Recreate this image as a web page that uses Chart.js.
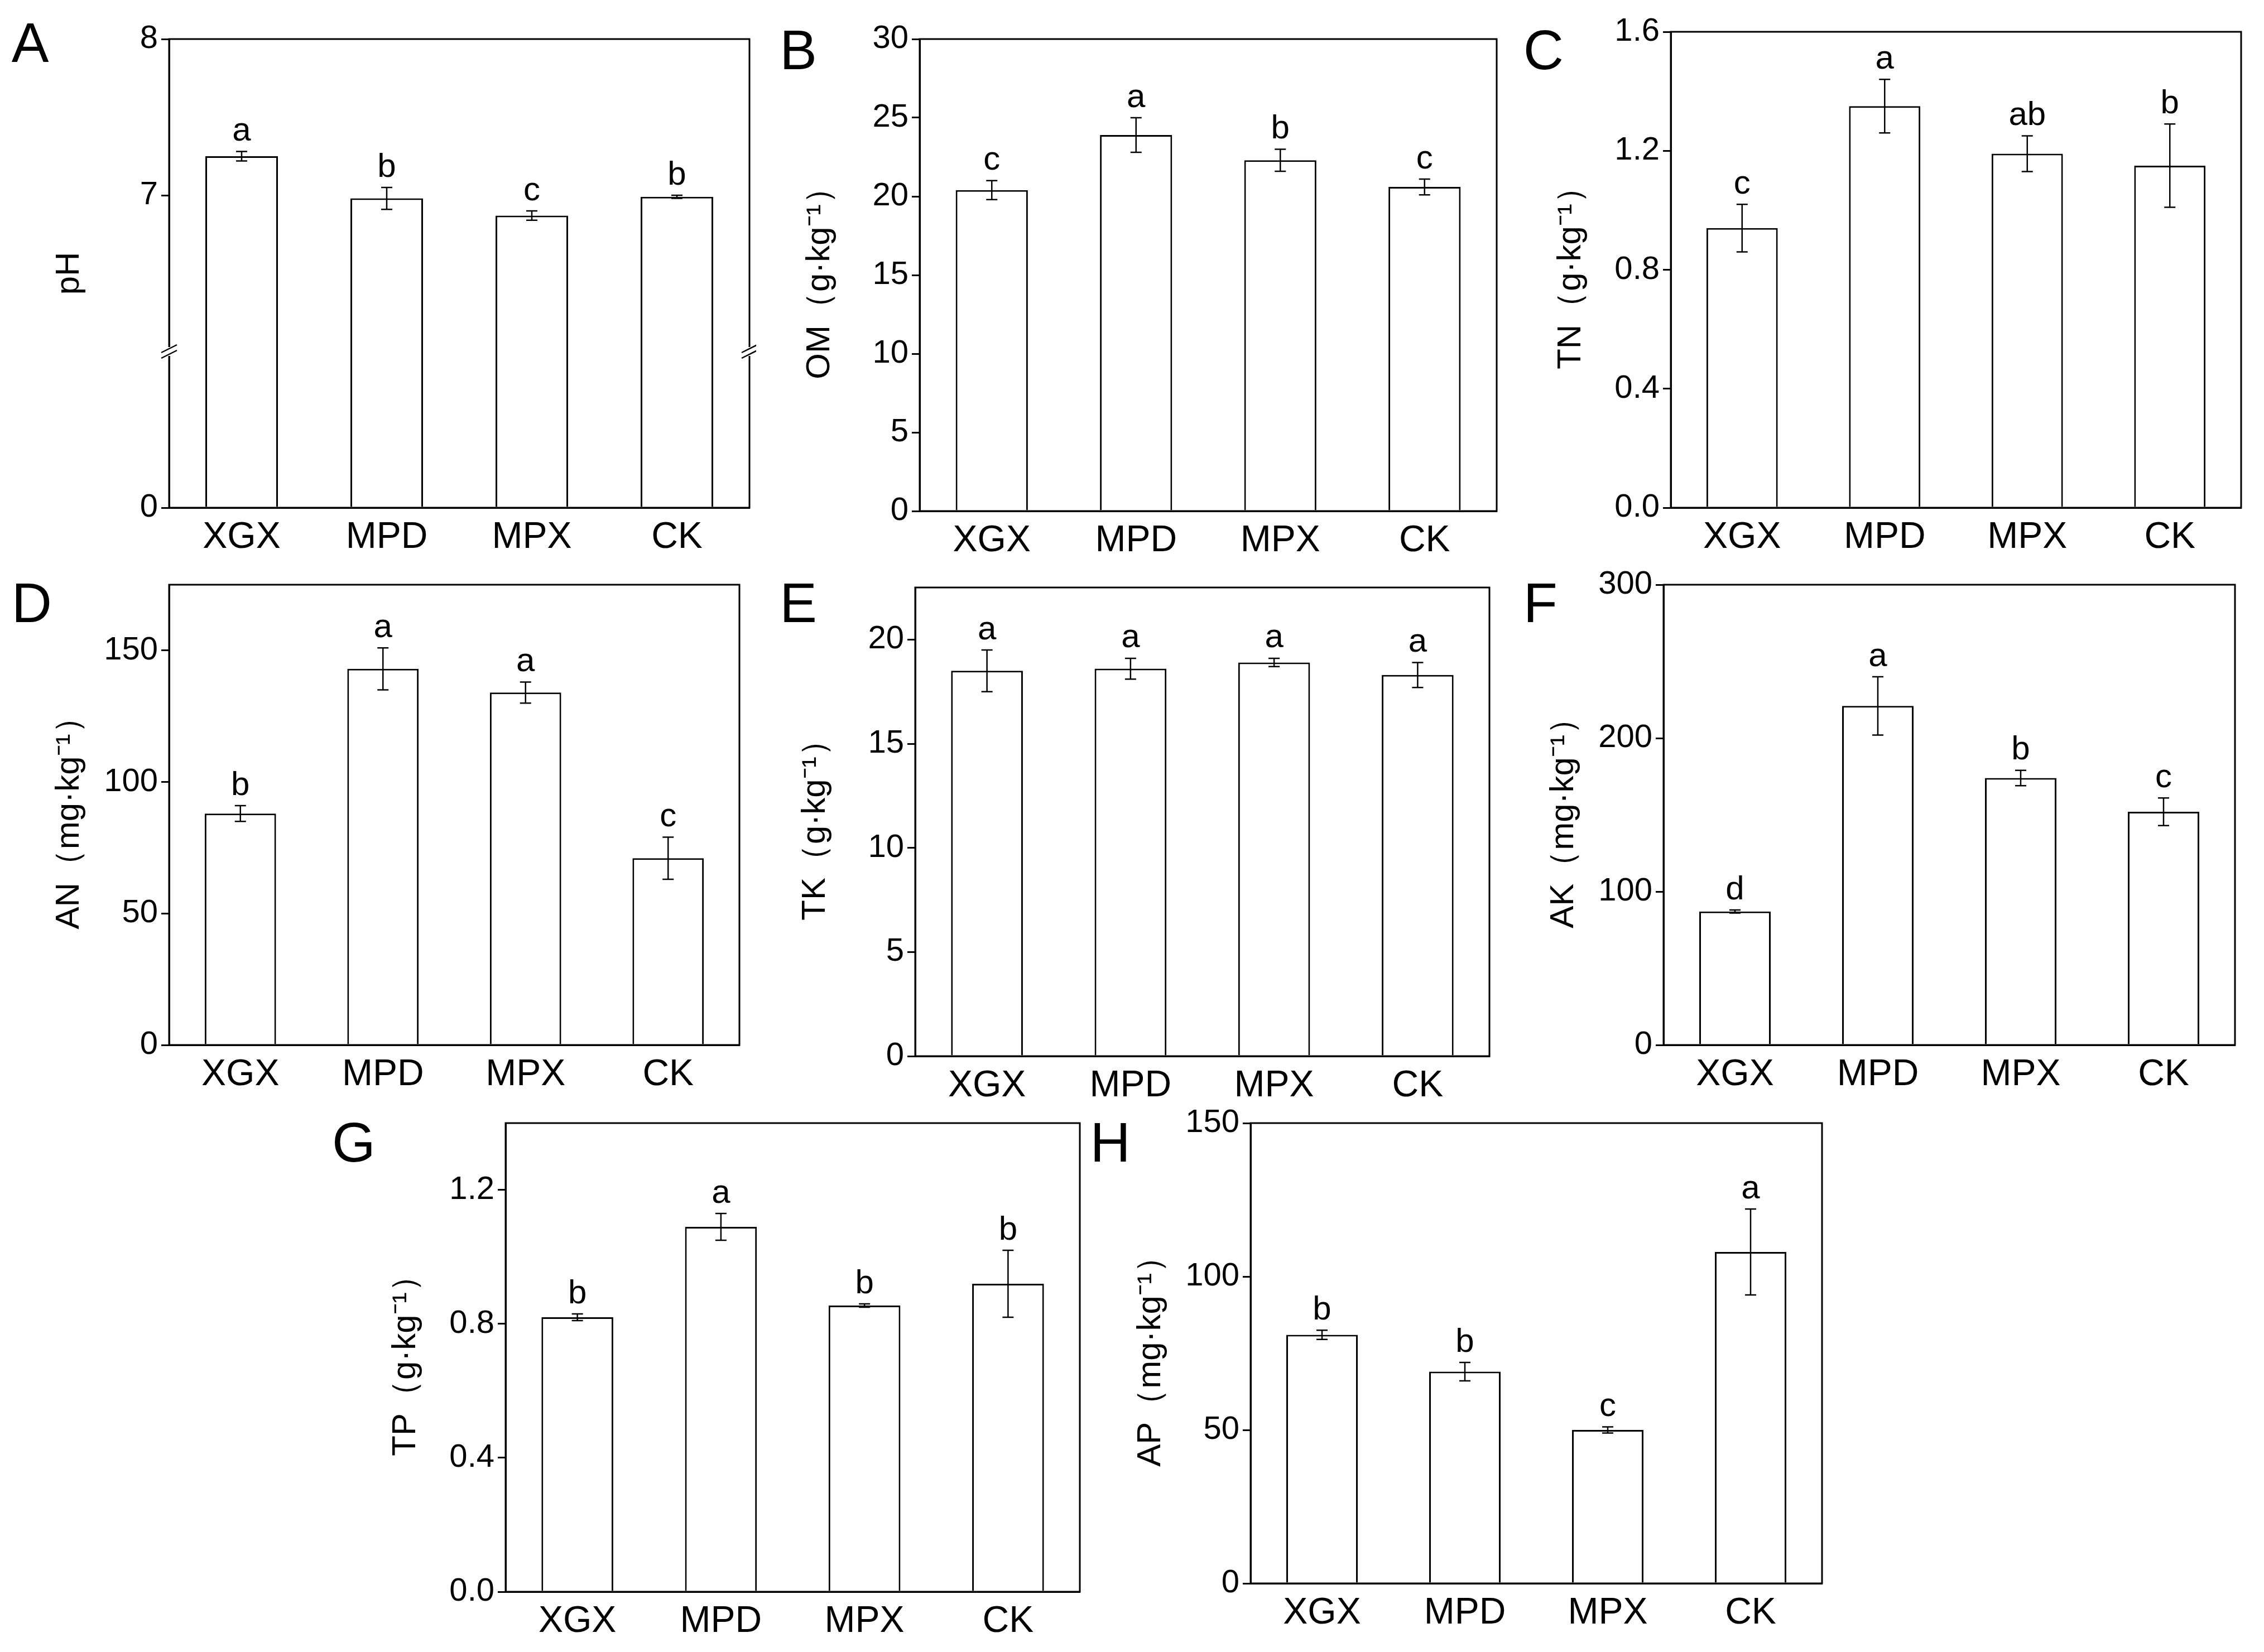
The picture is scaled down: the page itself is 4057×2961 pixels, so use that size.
<!DOCTYPE html>
<html><head><meta charset="utf-8">
<script src="https://cdn.jsdelivr.net/npm/chart.js@4.4.0/dist/chart.umd.min.js"></script>
<style>body{margin:0;background:#fff;width:4057px;height:2961px;position:relative;overflow:hidden;font-family:"Liberation Sans",Arial,sans-serif}
canvas{position:absolute}.lab{position:absolute;font-size:100px;color:#000;line-height:1}</style></head><body>
<script>
const categories=["XGX","MPD","MPX","CK"];
const phVals=[7.25,6.98,6.87,6.99], phErr=[0.03,0.07,0.03,0.01], phSig=["a","b","c","b"];
const omVals=[20.4,23.9,22.3,20.6], omErr=[0.6,1.1,0.7,0.5], omSig=["c","a","b","c"];
const tnVals=[0.94,1.35,1.19,1.15], tnErr=[0.08,0.09,0.06,0.14], tnSig=["c","a","ab","b"];
const anVals=[88,143,134,71], anErr=[3,8,4,8], anSig=["b","a","a","c"];
const tkVals=[18.5,18.6,18.9,18.3], tkErr=[1.0,0.5,0.2,0.6], tkSig=["a","a","a","a"];
const akVals=[87,221,174,152], akErr=[1,19,5,9], akSig=["d","a","b","c"];
const tpVals=[0.82,1.09,0.855,0.92], tpErr=[0.01,0.04,0.005,0.1], tpSig=["b","a","b","b"];
const apVals=[81,69,50,108], apErr=[1.5,3,1,14], apSig=["b","b","c","a"];
const S=4057/1568, YW=215, XH=100, PT=45, PR=12;
const FONT='"Liberation Sans", Arial, sans-serif';
const phT=v=>v<6?v/6:1+(v-6);
function panel(letter,box,lx,ly,title,vals,err,sig,ymin,ymax,step,dec,broken,hideMax){
  const [x0,y0,x1,y1]=box.map(v=>v*S);
  const c=document.createElement('canvas');
  const w=x1-x0+YW+PR, h=y1-y0+XH+PT;
  c.width=w;c.height=h;c.style.left=(x0-YW)+'px';c.style.top=(y0-PT)+'px';
  document.body.appendChild(c);
  const d=document.createElement('div');d.className='lab';d.textContent=letter;
  d.style.left=lx*S+'px';d.style.top=ly*S+'px';document.body.appendChild(d);
  const tf=broken?phT:(v=>v);
  const plug={id:'p'+letter,afterDatasetsDraw(ch){
    const ctx=ch.ctx,a=ch.chartArea,xs=ch.scales.x,ys=ch.scales.y;
    ctx.save();ctx.strokeStyle='#000';ctx.lineWidth=3;
    ctx.strokeRect(a.left,a.top,a.right-a.left,a.bottom-a.top);
    ctx.lineWidth=2.5;ctx.fillStyle='#000';ctx.font='60px '+FONT;ctx.textAlign='center';ctx.textBaseline='bottom';
    vals.forEach((v,i)=>{const x=xs.getPixelForValue(i);
      const yt=ys.getPixelForValue(tf(v+err[i])),yb=ys.getPixelForValue(tf(v-err[i]));
      ctx.beginPath();ctx.moveTo(x,yt);ctx.lineTo(x,yb);ctx.moveTo(x-10,yt);ctx.lineTo(x+10,yt);ctx.moveTo(x-10,yb);ctx.lineTo(x+10,yb);ctx.stroke();
      ctx.fillText(sig[i],x,yt-6);});
    if(broken){const yb=ys.getPixelForValue(1);
      [a.left,a.right].forEach(x=>{ctx.fillStyle='#fff';ctx.fillRect(x-8,yb-8,16,16);
        ctx.beginPath();ctx.moveTo(x-14,yb+2);ctx.lineTo(x+14,yb-12);ctx.moveTo(x-14,yb+12);ctx.lineTo(x+14,yb-2);ctx.stroke();});}
    ctx.restore();}};
  new Chart(c,{type:'bar',data:{labels:categories,datasets:[{data:vals.map(tf),backgroundColor:'#fff',borderColor:'#000',borderWidth:3,barPercentage:0.5,categoryPercentage:1}]},
    options:{responsive:false,devicePixelRatio:1,animation:false,
      layout:{padding:{top:PT,right:PR,left:0,bottom:0}},
      plugins:{legend:{display:false},tooltip:{enabled:false}},
      scales:{
        x:{grid:{display:false},border:{color:'#000',width:3},ticks:{color:'#000',font:{size:66,family:FONT},padding:6},
          afterFit(s){s.height=XH;}},
        y:{min:broken?0:ymin,max:broken?3:ymax,border:{color:'#000',width:3},
          grid:{drawOnChartArea:false,color:'#000',tickLength:14,lineWidth:3},
          ticks:{color:'#000',font:{size:58,family:FONT},padding:6,stepSize:broken?1:step,
            callback:v=>broken?({0:'0',2:'7',3:'8'}[v]??''):(hideMax&&v===ymax?'':Number(v).toFixed(dec))},
          afterBuildTicks(s){if(broken)s.ticks=[{value:0},{value:2},{value:3}];
            else if(hideMax)s.ticks=s.ticks.filter(t=>t.value!==ymax);},
          title:{display:true,text:title,color:'#000',font:{size:60,family:FONT},padding:0},
          afterFit(s){s.width=YW;}}}},
    plugins:[plug]});
}
panel('A',[117,27,519,352],8,10,'pH',phVals,phErr,phSig,0,8,1,0,true);
panel('B',[637,27,1037,354],540,15,'OM（g·kg⁻¹）',omVals,omErr,omSig,0,30,5,0);
panel('C',[1157,22,1552,352],1055,15,'TN（g·kg⁻¹）',tnVals,tnErr,tnSig,0,1.6,0.4,1);
panel('D',[117,405,512,724],8,398,'AN（mg·kg⁻¹）',anVals,anErr,anSig,0,175,50,0,false,true);
panel('E',[634,407,1032,732],540,398,'TK（g·kg⁻¹）',tkVals,tkErr,tkSig,0,22.5,5,0,false,true);
panel('F',[1152,405,1548,724],1055,398,'AK（mg·kg⁻¹）',akVals,akErr,akSig,0,300,100,0);
panel('G',[350,778,748,1103],230,772,'TP（g·kg⁻¹）',tpVals,tpErr,tpSig,0,1.4,0.4,1,false,true);
panel('H',[866,778,1262,1097],755,772,'AP（mg·kg⁻¹）',apVals,apErr,apSig,0,150,50,0);
</script></body></html>
